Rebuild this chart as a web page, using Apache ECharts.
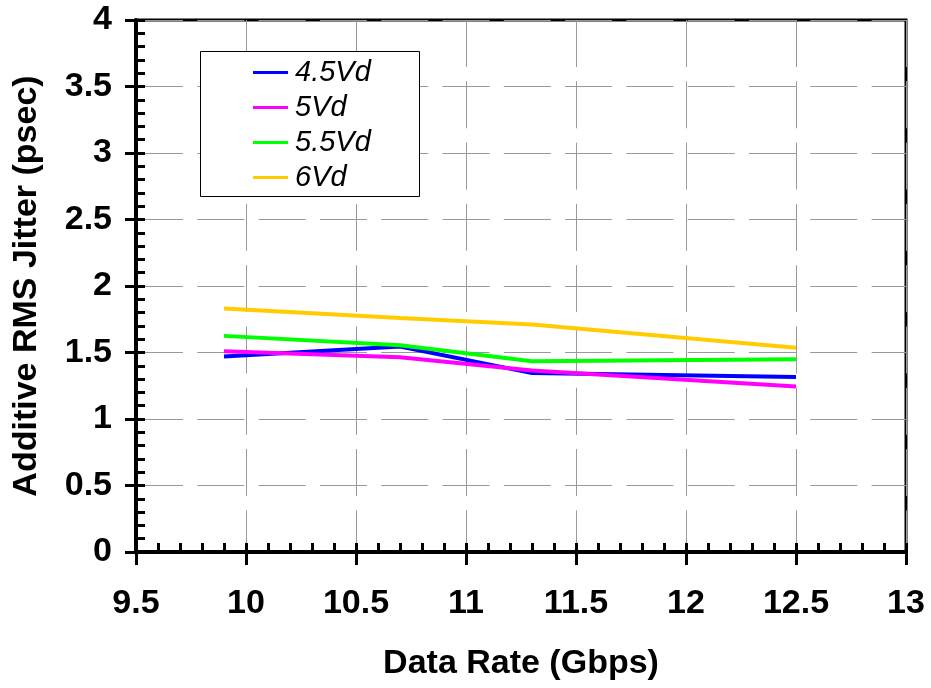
<!DOCTYPE html>
<html>
<head>
<meta charset="utf-8">
<script src="https://cdn.jsdelivr.net/npm/echarts@6/dist/echarts.min.js"></script>
<style>
html,body{margin:0;padding:0;background:#fff;}
#chart{width:931px;height:688px;}
</style>
</head>
<body>
<div id="chart"></div>
<script>
var xValues = [9.9, 10.7, 11.3, 12.5];
var seriesNames = ['4.5Vd', '5Vd', '5.5Vd', '6Vd'];
var jitter45 = [1.47, 1.545, 1.345, 1.315];
var jitter5 = [1.51, 1.465, 1.365, 1.245];
var jitter55 = [1.625, 1.555, 1.435, 1.45];
var jitter6 = [1.83, 1.76, 1.71, 1.535];
var seriesColors = ['#0000FF', '#FF00FF', '#00FF00', '#FFCC00'];
var xName = 'Data Rate (Gbps)';
var yName = 'Additive RMS Jitter (psec)';

var allValues = [jitter45, jitter5, jitter55, jitter6];
var FONT = '"Liberation Sans", Arial, sans-serif';

function pairs(vals) {
  return xValues.map(function (x, i) { return [x, vals[i]]; });
}

var chart = echarts.init(document.getElementById('chart'), null, {renderer: 'canvas'});

var grid = {left: 136, right: 25, top: 20, bottom: 136, show: true, borderColor: '#000', borderWidth: 3, backgroundColor: 'transparent'};
var gridLine = {show: true, lineStyle: {color: '#999', width: 1, type: [47, 14.3]}};

var option = {
  animation: false,
  backgroundColor: '#fff',
  grid: grid,
  xAxis: [
    {
      type: 'value', min: 9.5, max: 13, interval: 0.5, position: 'bottom',
      axisLine: {show: true, onZero: false, lineStyle: {color: '#000', width: 4}},
      axisTick: {show: true, inside: false, length: 13, lineStyle: {color: '#000', width: 3}},
      axisLabel: {show: true, margin: 35, color: '#000', fontSize: 34, fontWeight: 'bold', fontFamily: FONT,
        formatter: function (v) { return String(v); }},
      splitLine: gridLine,
      name: xName, nameLocation: 'middle', nameGap: 95,
      nameTextStyle: {color: '#000', fontSize: 34, fontWeight: 'bold', fontFamily: FONT}
    },
    {
      type: 'value', min: 9.5, max: 13, interval: 0.5, position: 'bottom', splitNumber: 5,
      axisLine: {show: false},
      axisTick: {show: true, inside: true, length: 9, lineStyle: {color: '#000', width: 3}},
      minorTick: {show: true, splitNumber: 5, length: 9, lineStyle: {color: '#000', width: 3}},
      axisLabel: {show: false},
      splitLine: {show: false}
    }
  ],
  yAxis: [
    {
      type: 'value', min: 0, max: 4, interval: 0.5, position: 'left',
      axisLine: {show: true, onZero: false, lineStyle: {color: '#000', width: 4}},
      axisTick: {show: true, inside: false, length: 11, lineStyle: {color: '#000', width: 3}},
      axisLabel: {show: true, margin: 24, color: '#000', fontSize: 34, fontWeight: 'bold', fontFamily: FONT,
        formatter: function (v) { return String(v); }},
      splitLine: gridLine,
      name: yName, nameLocation: 'middle', nameGap: 92,
      nameTextStyle: {color: '#000', fontSize: 34, fontWeight: 'bold', fontFamily: FONT}
    },
    {
      type: 'value', min: 0, max: 4, interval: 0.5, position: 'left',
      axisLine: {show: false},
      axisTick: {show: true, inside: true, length: 9, lineStyle: {color: '#000', width: 3}},
      minorTick: {show: true, splitNumber: 5, length: 9, lineStyle: {color: '#000', width: 3}},
      axisLabel: {show: false},
      splitLine: {show: false}
    }
  ],
  graphic: [
    {type: 'rect', left: 200, top: 51, z: 5, shape: {width: 219, height: 145},
      style: {fill: '#fff', stroke: '#000', lineWidth: 1}}
  ],
  legend: {
    orient: 'vertical', left: 253, top: 58, padding: 0, z: 10,
    icon: 'rect',
    itemWidth: 35, itemHeight: 3, itemGap: 6,
    backgroundColor: 'transparent',
    textStyle: {color: '#000', fontSize: 29, fontStyle: 'italic', fontFamily: FONT, lineHeight: 29, padding: [0, 0, 0, 2]},
    data: seriesNames
  },
  series: seriesNames.map(function (name, i) {
    return {
      name: name, type: 'line', xAxisIndex: 0, yAxisIndex: 0,
      data: pairs(allValues[i]),
      symbol: 'none', showSymbol: false,
      color: seriesColors[i],
      itemStyle: {color: seriesColors[i]},
      lineStyle: {color: seriesColors[i], width: 4}
    };
  })
};
chart.setOption(option);
</script>
</body>
</html>
